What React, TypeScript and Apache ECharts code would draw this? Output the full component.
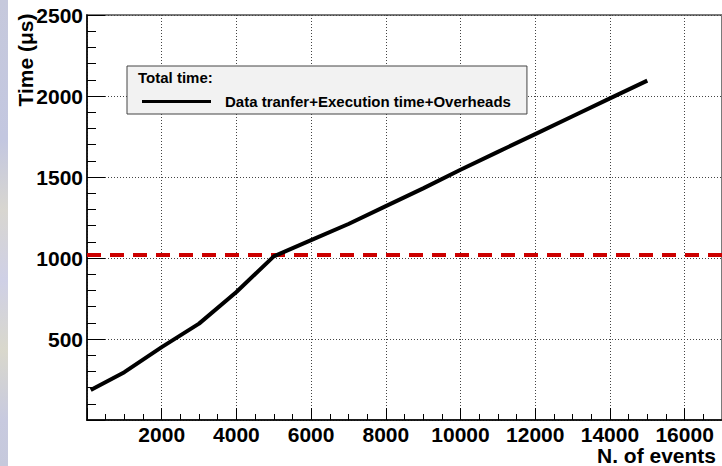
import React, { useEffect, useRef } from "react";
import * as echarts from "echarts";

const eventCounts = [100, 1000, 2000, 3000, 4000, 5000, 6000, 7000, 8000, 9000, 10000, 11000, 12000, 13000, 14000, 15000];
const totalTimes = [185, 295, 450, 595, 790, 1010, 1110, 1210, 1320, 1430, 1545, 1655, 1765, 1875, 1985, 2095];
const thresholdTime = [1020];
const seriesName = "Data tranfer+Execution time+Overheads";
const legendTitle = "Total time:";
const xTitle = "N. of events";
const yTitle = "Time (\u03bcs)";

const FONT = "'Liberation Sans', Arial, sans-serif";

export default function App() {
  const ref = useRef<HTMLDivElement>(null);
  useEffect(() => {
    if (!ref.current) return;
    const chart = echarts.init(ref.current, null, { renderer: "svg" });
    chart.setOption({
      animation: false,
      backgroundColor: "#ffffff",
      grid: {
        left: 87,
        right: 0,
        top: 15,
        bottom: 46,
        show: true,
        borderColor: "#7a7a7a",
        borderWidth: 2,
        backgroundColor: "#ffffff",
      },
      xAxis: {
        type: "value",
        min: 0,
        max: 17000,
        interval: 2000,
        axisLine: { show: true, onZero: false, lineStyle: { color: "#000", width: 1.5 } },
        axisTick: { show: true, inside: true, length: 12, lineStyle: { color: "#000" } },
        minorTick: { show: true, splitNumber: 4, length: 6, lineStyle: { color: "#000" } },
        splitLine: { show: true, lineStyle: { color: "#444", type: [1, 2], width: 1 } },
        axisLabel: {
          margin: 4,
          color: "#000",
          fontFamily: FONT,
          fontWeight: "bold",
          fontSize: 21,
          showMinLabel: false,
          showMaxLabel: false,
          formatter: (v: number) => (v === 0 || v % 2000 !== 0 ? "" : String(v)),
        },
      },
      yAxis: {
        type: "value",
        min: 0,
        max: 2500,
        interval: 500,
        axisLine: { show: true, onZero: false, lineStyle: { color: "#000", width: 1.5 } },
        axisTick: { show: true, inside: true, length: 18, lineStyle: { color: "#000" } },
        minorTick: { show: true, splitNumber: 5, length: 9, lineStyle: { color: "#000" } },
        splitLine: { show: true, lineStyle: { color: "#444", type: [1, 2], width: 1 } },
        axisLabel: {
          margin: 4,
          color: "#000",
          fontFamily: FONT,
          fontWeight: "bold",
          fontSize: 21,
          formatter: (v: number) => (v === 0 ? "" : String(v)),
        },
      },
      legend: {
        show: true,
        left: 127,
        top: 66,
        orient: "vertical",
        padding: [28, 16, 5, 15],
        backgroundColor: "#f2f2f2",
        borderColor: "#444",
        borderWidth: 1,
        icon: "rect",
        itemWidth: 69,
        itemHeight: 3,
        itemStyle: { color: "#000" },
        textStyle: {
          fontFamily: FONT,
          fontWeight: "bold",
          fontSize: 15,
          color: "#000",
          padding: [0, 0, 0, 9],
        },
        data: [seriesName],
      },
      graphic: [
        {
          type: "rect",
          shape: { x: 0, y: 0, width: 8, height: 466 },
          style: {
            fill: new echarts.graphic.LinearGradient(0, 0, 0, 1, [
              { offset: 0, color: "#c6c9dc" },
              { offset: 0.3, color: "#c3c7e0" },
              { offset: 0.45, color: "#d8d6d0" },
              { offset: 0.6, color: "#cfd0e6" },
              { offset: 0.75, color: "#d9d8cc" },
              { offset: 0.9, color: "#c8cadf" },
              { offset: 1, color: "#c6c9dc" },
            ]),
          },
          z: -1,
        },
        {
          type: "text",
          left: 138,
          top: 70,
          z: 100,
          style: { text: legendTitle, fontFamily: FONT, fontWeight: "bold", fontSize: 15, fill: "#000" },
        },
        {
          type: "text",
          x: 25,
          y: 60,
          rotation: Math.PI / 2,
          z: 100,
          style: {
            text: yTitle,
            fontFamily: FONT,
            fontWeight: "bold",
            fontSize: 21,
            fill: "#000",
            align: "center",
            verticalAlign: "middle",
          },
        },
        {
          type: "text",
          x: 716,
          y: 466,
          z: 100,
          style: {
            text: xTitle,
            fontFamily: FONT,
            fontWeight: "bold",
            fontSize: 21,
            fill: "#000",
            align: "right",
            verticalAlign: "bottom",
          },
        },
      ],
      series: [
        {
          name: seriesName,
          type: "line",
          data: eventCounts.map((x, i) => [x, totalTimes[i]]),
          showSymbol: false,
          symbol: "none",
          lineStyle: { color: "#000", width: 4 },
          itemStyle: { color: "#000" },
          z: 5,
          markLine: {
            silent: true,
            symbol: "none",
            label: { show: false },
            lineStyle: { color: "#cc0000", width: 4, type: [14, 9] },
            data: thresholdTime.map((t) => ({ yAxis: t })),
          },
        },
      ],
    });
    return () => chart.dispose();
  }, []);
  return (
    <div
      ref={ref}
      style={{ position: "fixed", left: 0, top: 0, width: 722, height: 466, background: "#fff" }}
    />
  );
}
